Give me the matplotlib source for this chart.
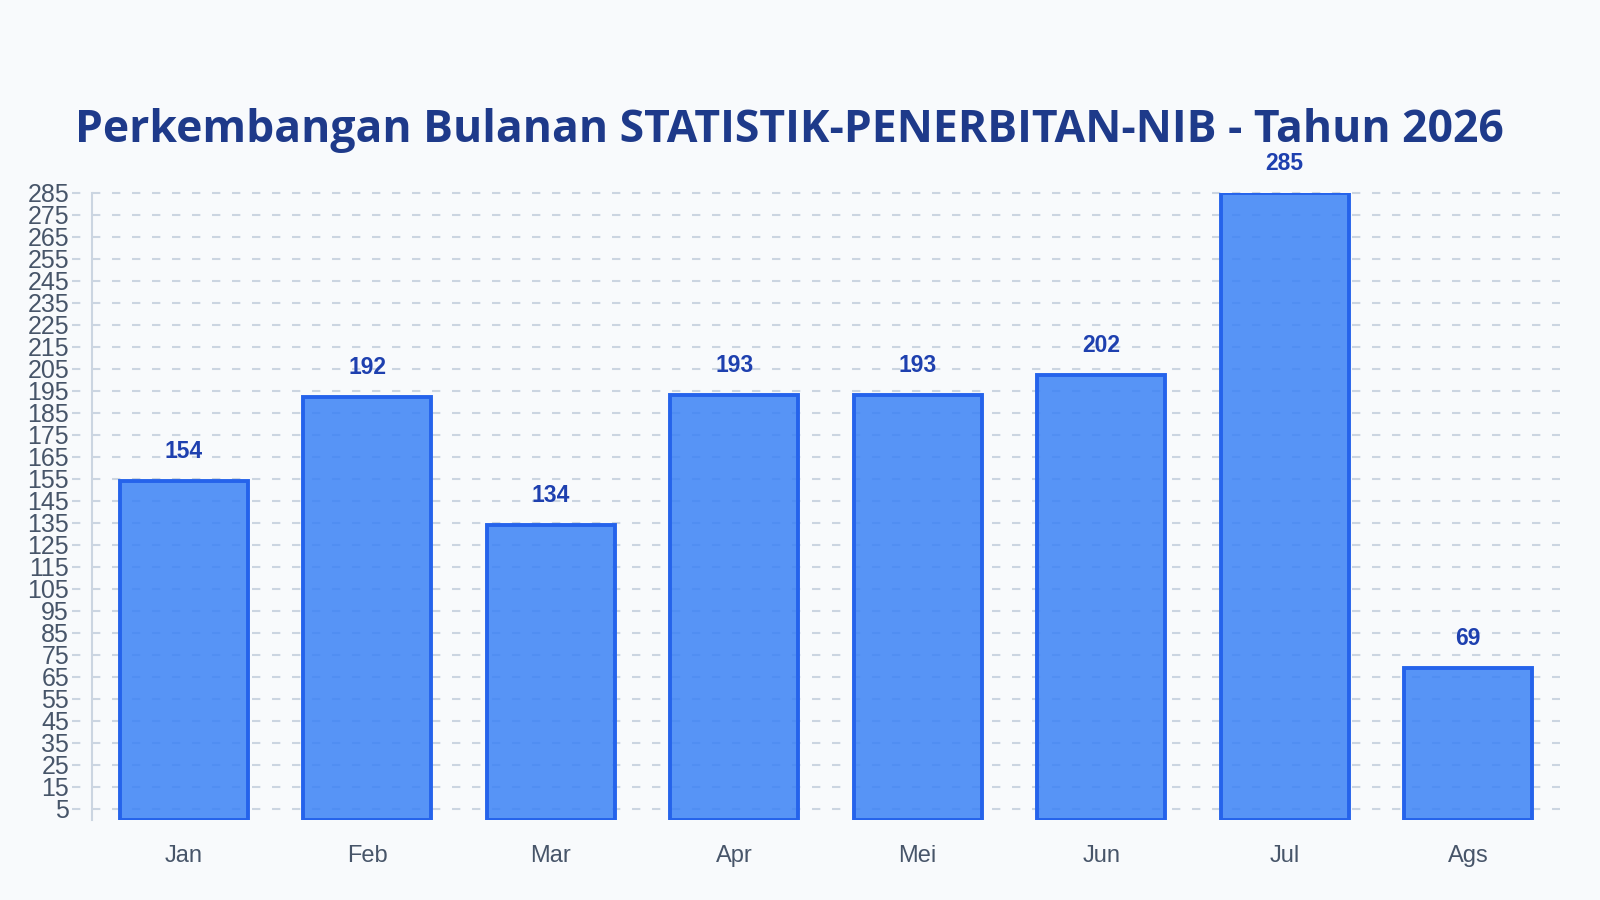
import matplotlib
matplotlib.use("Agg")
import matplotlib.pyplot as plt

# data
bulan = ["Jan", "Feb", "Mar", "Apr", "Mei", "Jun", "Jul", "Ags"]
jumlah = [154, 192, 134, 193, 193, 202, 285, 69]
yticks = list(range(5, 286, 10))

judul = "Perkembangan Bulanan STATISTIK-PENERBITAN-NIB - Tahun 2026"

bg = "#f8fafc"
grid_col = "#cbd5e1"

fig = plt.figure(figsize=(16, 9), dpi=100, facecolor=bg)
ax = fig.add_axes([0.0575, 0.0892, 0.975 - 0.0575, 0.786 - 0.0892])
ax.set_facecolor(bg)

x = list(range(len(bulan)))
ax.bar(x, jumlah, width=0.7, color="#3b82f6", alpha=0.85, zorder=2)
ax.bar(x, jumlah, width=0.7, fill=False, edgecolor="#2563eb", linewidth=2.8, zorder=3)

for xi, v in zip(x, jumlah):
    ax.annotate(str(v), (xi, v), xytext=(0, 16.5), textcoords="offset points",
                ha="center", va="baseline", fontsize=16.5, fontweight="bold",
                color="#1e40af", family="Liberation Sans")

ax.set_xlim(-0.5, len(bulan) - 0.5)
ax.set_ylim(0, 285)
ax.set_yticks(yticks)
ax.set_xticks(x)
ax.set_xticklabels(bulan)

# garis grid putus-putus, sedikit menjulur ke kiri sumbu (gaya chart.js)
lebar_ax = (0.975 - 0.0575) * 1600
x0 = -20 / lebar_ax
for t in yticks:
    ax.plot([x0, 1], [t, t], transform=ax.get_yaxis_transform(), color=grid_col,
            linewidth=1.5, dashes=(4.0, 5.6), clip_on=False, zorder=1)

for s in ["top", "right", "bottom"]:
    ax.spines[s].set_visible(False)
ax.spines["left"].set_color(grid_col)
ax.spines["left"].set_linewidth(1.5)

ax.tick_params(axis="y", length=0, pad=16.5, labelsize=18, labelcolor="#475569")
ax.tick_params(axis="x", length=0, pad=18, labelsize=17, labelcolor="#475569")
for lbl in ax.get_xticklabels() + ax.get_yticklabels():
    lbl.set_family("Liberation Sans")

fig.text(0.4935, 0.8555, judul, ha="center", va="center", fontsize=32,
         fontweight="bold", color="#1e3a8a", family=["Open Sans", "Noto Sans", "DejaVu Sans"])

fig.savefig("out.png", dpi=100, facecolor=bg)
